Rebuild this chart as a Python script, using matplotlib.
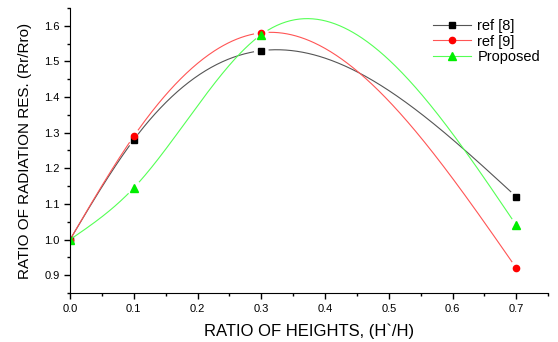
import numpy as np
import matplotlib.pyplot as plt
from matplotlib.ticker import MultipleLocator

plt.rcParams['font.family'] = ['Liberation Sans', 'DejaVu Sans']

# datos
x = [0.0, 0.1, 0.3, 0.7]
ref8 = [1.0, 1.28, 1.53, 1.12]
ref9 = [1.0, 1.29, 1.58, 0.92]
proposed = [1.0, 1.145, 1.575, 1.04]


def spline_natural(xp, yp, xs):
    # spline cubico natural (como la conexion "Spline" de Origin)
    xp = np.asarray(xp, float)
    yp = np.asarray(yp, float)
    n = len(xp)
    h = np.diff(xp)
    A = np.zeros((n, n))
    b = np.zeros(n)
    A[0, 0] = A[-1, -1] = 1
    for i in range(1, n - 1):
        A[i, i - 1] = h[i - 1]
        A[i, i] = 2 * (h[i - 1] + h[i])
        A[i, i + 1] = h[i]
        b[i] = 6 * ((yp[i + 1] - yp[i]) / h[i] - (yp[i] - yp[i - 1]) / h[i - 1])
    M = np.linalg.solve(A, b)
    out = np.empty_like(xs)
    for k, xv in enumerate(xs):
        i = min(np.searchsorted(xp, xv, side='right') - 1, n - 2)
        i = max(i, 0)
        a = xp[i + 1] - xv
        c = xv - xp[i]
        out[k] = (M[i] * a**3 + M[i + 1] * c**3) / (6 * h[i]) \
            + (yp[i] / h[i] - M[i] * h[i] / 6) * a \
            + (yp[i + 1] / h[i] - M[i + 1] * h[i] / 6) * c
    return out


fig = plt.figure(figsize=(5.58, 3.42), dpi=100)
ax = fig.add_axes([0.1255, 0.143, 0.857, 0.834])
ax.set_xlim(0, 0.75)
ax.set_ylim(0.85, 1.65)

xs = np.linspace(0, 0.7, 400)
series = [
    (ref8, 'black', '#555555', 's', 4.5, 'ref [8]'),
    (ref9, 'red', '#ff5555', 'o', 4.5, 'ref [9]'),
    (proposed, '#00ee00', '#55ff55', '^', 5.5, 'Proposed'),
]
for ys, c, lc, m, ms, lab in series:
    curva = spline_natural(x, ys, xs)
    # hueco alrededor de cada simbolo (menos en x=0)
    pts = ax.transData.transform(np.column_stack([xs, curva]))
    mk = ax.transData.transform(np.column_stack([x[1:], ys[1:]]))
    d = np.min(np.hypot(pts[:, None, 0] - mk[None, :, 0],
                        pts[:, None, 1] - mk[None, :, 1]), axis=1)
    curva = np.where(d < 7, np.nan, curva)
    ax.plot(xs, curva, color=lc, lw=0.8)
    ax.plot(x, ys, linestyle='none', marker=m, color=c, markersize=ms)
    ax.plot([], [], color=lc, lw=0.8, marker=m, markerfacecolor=c,
            markeredgecolor=c, markersize=ms, label=lab)

ax.set_xticks(np.arange(0, 0.71, 0.1))
ax.set_yticks(np.arange(0.9, 1.61, 0.1))
ax.xaxis.set_minor_locator(MultipleLocator(0.05))
ax.yaxis.set_minor_locator(MultipleLocator(0.05))
ax.xaxis.set_major_formatter(plt.FormatStrFormatter('%.1f'))
ax.yaxis.set_major_formatter(plt.FormatStrFormatter('%.1f'))

ax.spines['top'].set_visible(False)
ax.spines['right'].set_visible(False)
ax.tick_params(which='both', direction='out', labelsize=8, width=1)
ax.tick_params(which='major', length=4)
ax.tick_params(which='minor', length=2.5)

ax.set_xlabel('RATIO OF HEIGHTS, (H`/H)', fontsize=12, labelpad=7)
ax.set_ylabel('RATIO OF RADIATION RES. (Rr/Rro)', fontsize=11, labelpad=9)

fig.legend(loc='upper left', bbox_to_anchor=(433 / 558, 0.945), frameon=False,
           fontsize=10.5, handlelength=2.6, handletextpad=0.45, labelspacing=0.12,
           borderpad=0, borderaxespad=0)

fig.savefig('out.png', dpi=100)
